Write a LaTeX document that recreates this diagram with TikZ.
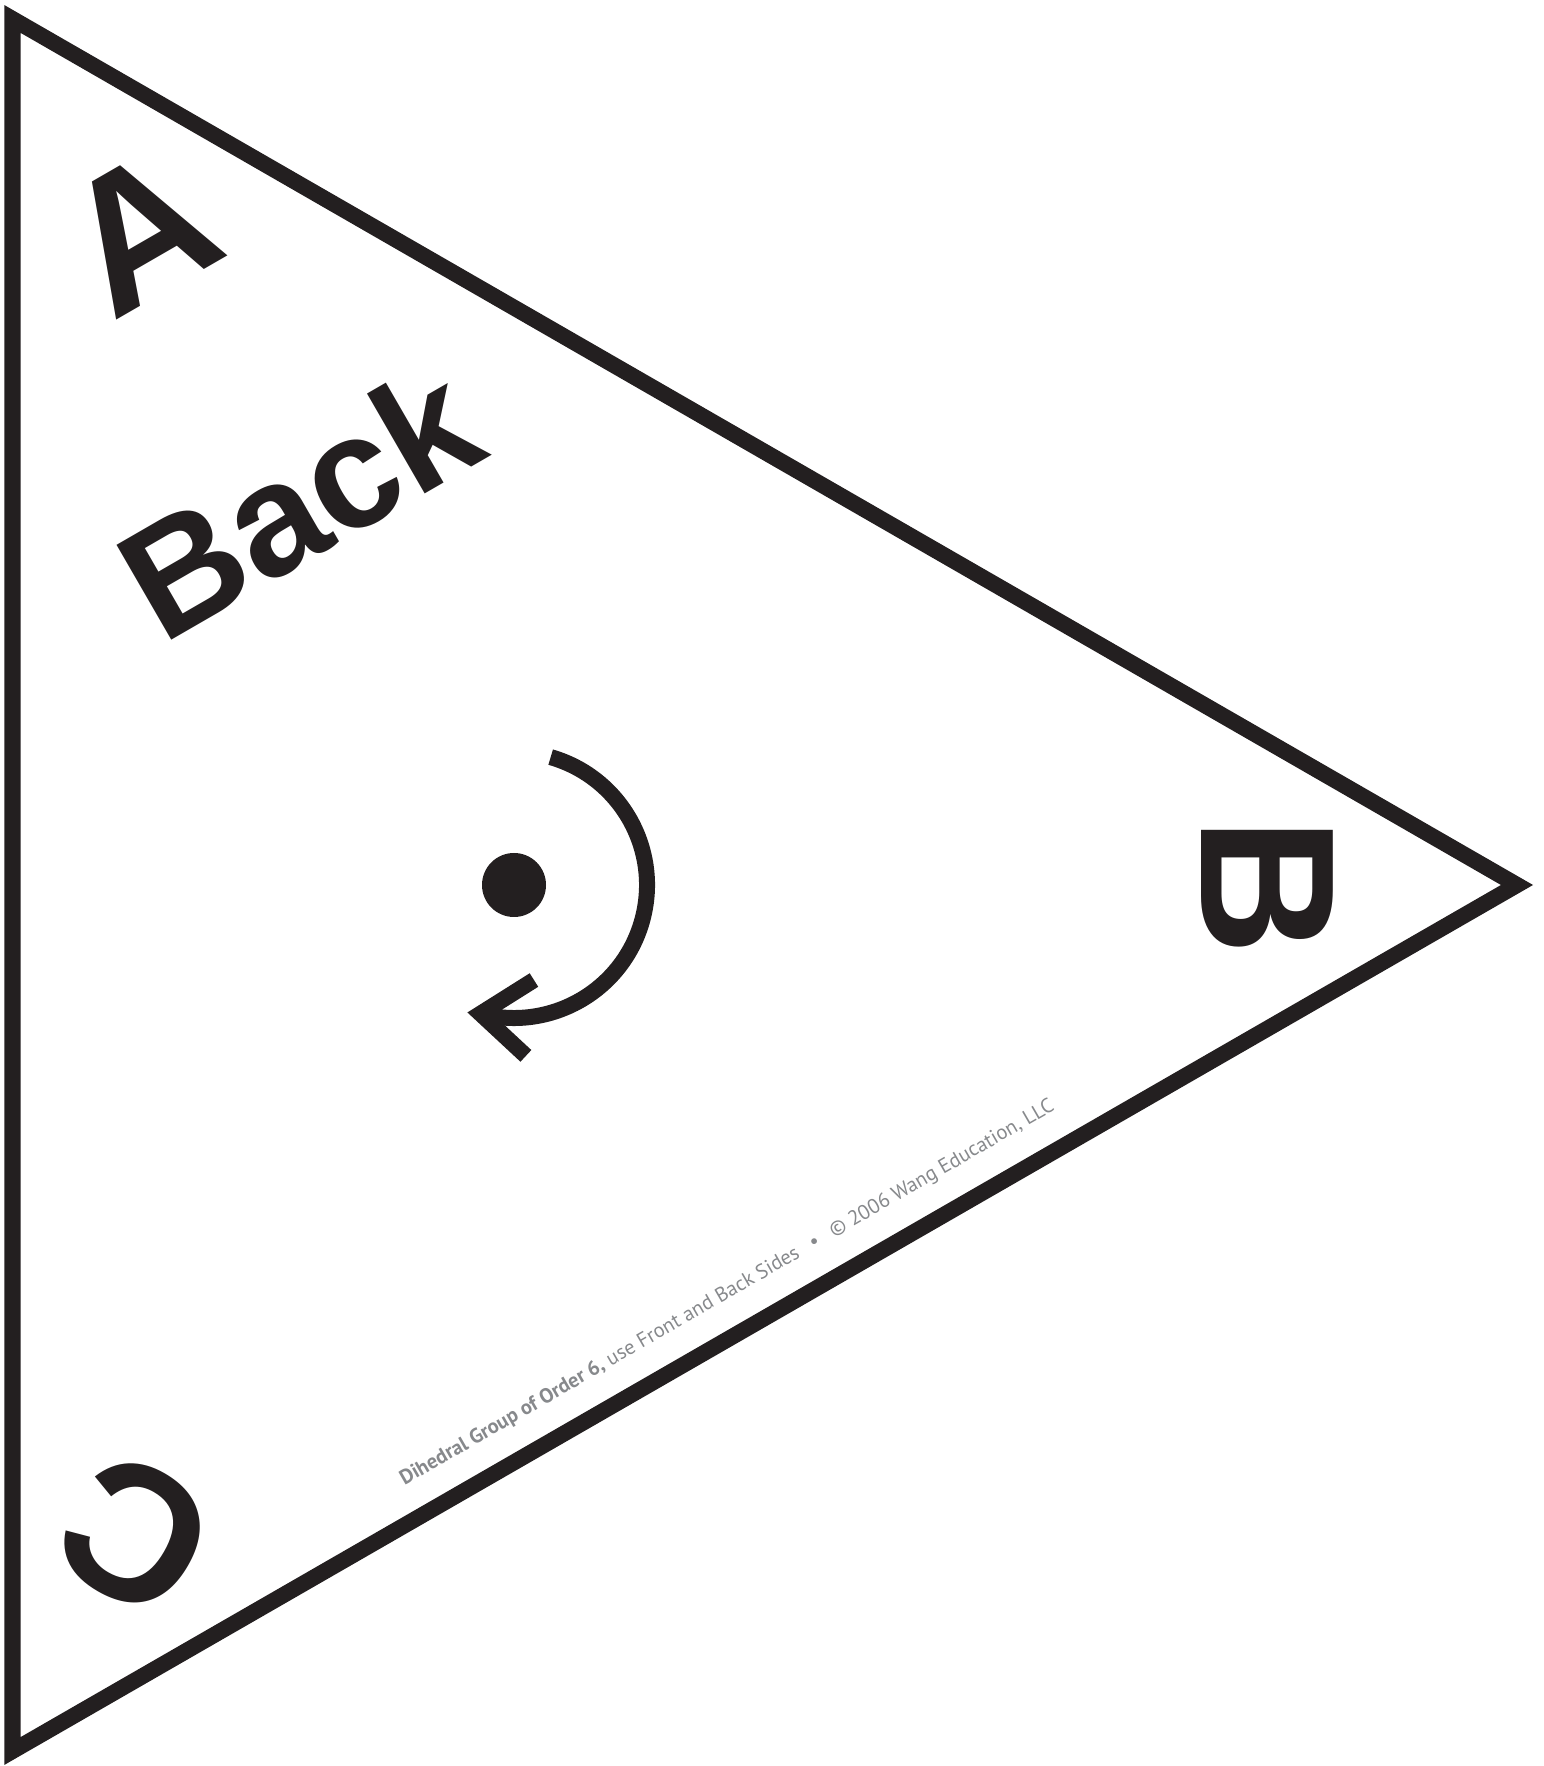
\documentclass[tikz,border=0pt]{standalone}
\usepackage{fontspec}
\newfontfamily\labelfont{Liberation Sans}
\newfontfamily\notefont{PT Sans}
\usetikzlibrary{positioning}
\definecolor{ink}{RGB}{35,31,32}
\definecolor{notegray}{RGB}{135,137,140}

\begin{document}
\begin{tikzpicture}[
  edge/.style={line width=0.16cm, draw=ink, line join=miter, line cap=butt},
  corner/.style={font=\labelfont\bfseries\fontsize{54.5}{60}\selectfont, text=ink, inner sep=0pt},
  side/.style={font=\labelfont\bfseries\fontsize{45.3}{50}\selectfont, text=ink, inner sep=0pt},
  note/.style={font=\notefont\fontsize{5.85}{7}\selectfont, text=notegray, inner sep=0pt}
]
\useasboundingbox (0,0) rectangle (15.44,17.66);

% Triangle
\coordinate (top) at (0.125,17.47);
\coordinate (bottom) at (0.125,0.15);
\coordinate (tip) at (15.17,8.81);
\draw[edge] (top) -- (tip) -- (bottom) -- cycle;

% Vertex labels
\node[corner, rotate=30] at (1.39,15.35) (A) {A};
\node[corner, rotate=-90] at (12.67,8.79) (B) {B};
\node[corner, rotate=150] at (1.355,2.31) (C) {C};

% Side label
\node[side, rotate=30] at (2.99,12.65) (back) {Back};

% Centre and turning arrow
\coordinate (centre) at (5.14,8.81);
\fill[ink] (centre) circle (0.32);
\draw[edge] (centre) ++(74:1.33) arc[start angle=74, end angle=-104.6, radius=1.33] coordinate (head);
\draw[edge] (head) ++(32.2:0.632) -- (head) -- ++(-42.9:0.62);

% Copyright line
\node[note, rotate=30, anchor=base west] at (4.04,2.80) (note)
  {\textbf{Dihedral Group of Order 6,} use Front and Back Sides\hspace{0.7em}•\hspace{0.7em}© 2006 Wang Education, LLC};

\end{tikzpicture}
\end{document}
